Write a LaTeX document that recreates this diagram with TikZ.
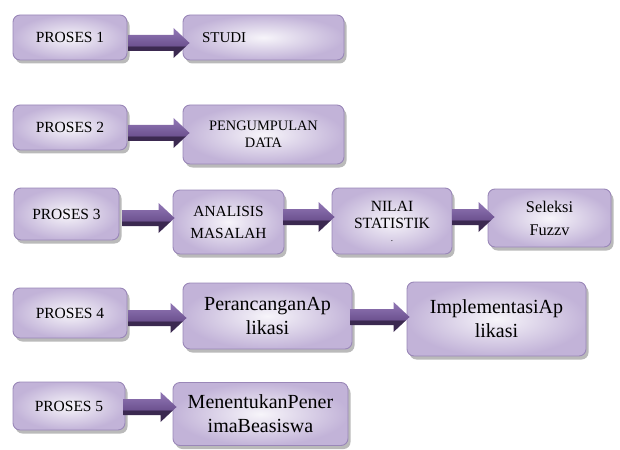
\documentclass[tikz,border=0pt]{standalone}
\usepackage{fontspec}
\setmainfont{Liberation Serif}
\usetikzlibrary{calc,shadows}
\definecolor{boxin}{HTML}{F7F5FA}
\definecolor{boxout}{HTML}{C2B3D8}
\definecolor{boxline}{HTML}{9A87B8}
\definecolor{arrdk}{HTML}{3B2950}
\definecolor{arrmd}{HTML}{6E5391}
\definecolor{arrlt}{HTML}{8C72B0}
\pgfdeclareverticalshading{arrshade}{100bp}{color(0bp)=(arrdk); color(25bp)=(arrdk); color(44bp)=(arrdk); color(46bp)=(arrmd); color(70bp)=(arrlt); color(100bp)=(arrlt)}
\begin{document}
\begin{tikzpicture}[x=1pt,y=-1pt,
  box/.style={rectangle, rounded corners=7pt, draw=boxline, line width=0.9pt,
    inner color=boxin, outer color=boxout,
    drop shadow={shadow xshift=2.5pt, shadow yshift=-3.5pt, fill=black!45, opacity=0.6},
    align=center, inner sep=2pt},
  pbox/.style={box, font=\fontsize{15.5}{18.6}\selectfont},
  mbox/.style={box, font=\fontsize{15}{18}\selectfont},
  bigbox/.style={box, font=\fontsize{20}{24}\selectfont},
  barrow/.style={shade, shading=arrshade, draw=none,
    to path={let \p1=(\tikztostart), \p2=(\tikztotarget) in
      (\x1,\y1+8pt) -- (\x2-16pt,\y1+8pt) -- (\x2-16pt,\y1+15pt) -- (\x2,\y1)
      -- (\x2-16pt,\y1-15pt) -- (\x2-16pt,\y1-8pt) -- (\x1,\y1-8pt) -- cycle}}
]
\useasboundingbox (0,0) rectangle (620,449);

\node[pbox, minimum width=114pt, minimum height=45pt] (p1) at (70,37.5) {PROSES 1};
\node[mbox, minimum height=45pt, text width=123pt, inner xsep=19pt, align=left] (s1) at (263.5,37.5) {STUDI};

\node[pbox, minimum width=114pt, minimum height=45pt] (p2) at (70,127.5) {PROSES 2};
\node[box, font=\fontsize{14.4}{17}\selectfont, minimum width=161pt, minimum height=59pt] (s2) at (263.5,134.5) {PENGUMPULAN\\DATA};

\node[pbox, minimum width=105pt, minimum height=52pt] (p3) at (66.5,214) {PROSES 3};
\node[box, font=\fontsize{15.4}{22}\selectfont, minimum width=111pt, minimum height=64pt] (a3) at (228.5,222) {ANALISIS\\MASALAH};
\node[box, font=\fontsize{15.6}{17}\selectfont, minimum width=120pt, minimum height=66pt] (n3) at (392,221) {NILAI\\STATISTIK\\[-4pt]{\small .}};
\node[box, font=\fontsize{16.3}{23}\selectfont, minimum width=123pt, minimum height=58pt] (f3) at (549.5,218) {Seleksi\\Fuzzv};

\node[pbox, minimum width=114pt, minimum height=50pt] (p4) at (70,313) {PROSES 4};
\node[bigbox, minimum width=169pt, minimum height=66pt] (r4) at (267.5,316) {PerancanganAp\\likasi};
\node[bigbox, minimum width=179pt, minimum height=74pt] (i4) at (496.5,319) {ImplementasiAp\\likasi};

\node[pbox, minimum width=112pt, minimum height=48pt] (p5) at (69,406) {PROSES 5};
\node[bigbox, minimum width=175pt, minimum height=63pt] (m5) at (260.5,414) {MenentukanPener\\imaBeasiswa};

\path[barrow] ($(p1.east)+(1,5.5)$) to ($(p1.east -| s1.west)+(7,5.5)$);
\path[barrow] ($(p2.east)+(1,5.5)$) to ($(p2.east -| s2.west)+(7,5.5)$);
\path[barrow] ($(p3.east)+(3,4)$) to ($(p3.east -| a3.west)+(2,4)$);
\path[barrow] ($(a3.east)+(-1,-5)$) to ($(a3.east -| n3.west)+(3,-5)$);
\path[barrow] ($(n3.east)+(0,-4)$) to ($(n3.east -| f3.west)+(7,-4)$);
\path[barrow] ($(p4.east)+(1,5)$) to ($(p4.east -| r4.west)+(4,5)$);
\path[barrow] ($(r4.east)+(-2,1)$) to ($(r4.east -| i4.west)+(3,1)$);
\path[barrow] ($(p5.east)+(-2,1)$) to ($(p5.east -| m5.west)+(4,1)$);
\end{tikzpicture}
\end{document}
